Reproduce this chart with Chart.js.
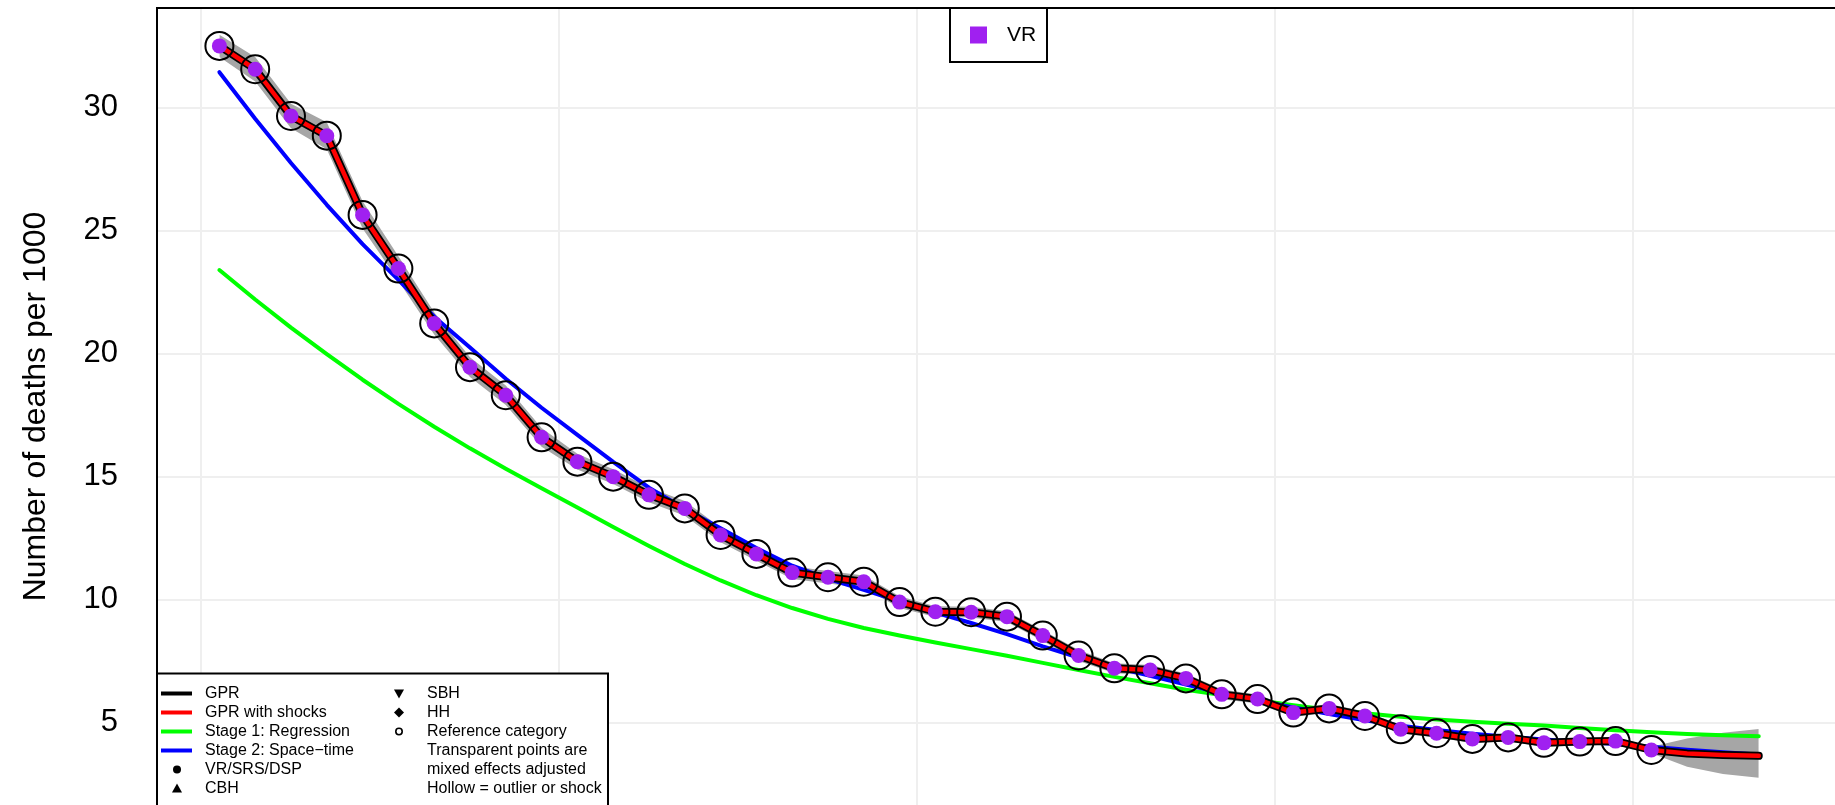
<!DOCTYPE html>
<html>
<head>
<meta charset="utf-8">
<script src="https://cdn.jsdelivr.net/npm/chart.js@4.4.0/dist/chart.umd.min.js"></script>
<style>
html, body { margin: 0; padding: 0; background: #fff; overflow: hidden; }
canvas { display: block; }
</style>
</head>
<body>
<canvas id="deathsChart" width="1835" height="805"></canvas>
<script>
// Mid-year points for the estimate lines
const years = [1970.5, 1971.5, 1972.5, 1973.5, 1974.5, 1975.5, 1976.5, 1977.5, 1978.5, 1979.5,
    1980.5, 1981.5, 1982.5, 1983.5, 1984.5, 1985.5, 1986.5, 1987.5, 1988.5, 1989.5,
    1990.5, 1991.5, 1992.5, 1993.5, 1994.5, 1995.5, 1996.5, 1997.5, 1998.5, 1999.5,
    2000.5, 2001.5, 2002.5, 2003.5, 2004.5, 2005.5, 2006.5, 2007.5, 2008.5, 2009.5,
    2010.5, 2011.5, 2012.5, 2013.5];

// VR data points (1970.5 - 2010.5)
const vrYears = years.slice(0, 41);
const vrDeaths = [32.51, 31.56, 29.66, 28.86, 25.64, 23.46, 21.23, 19.45, 18.31, 16.6,
    15.61, 15.0, 14.26, 13.71, 12.63, 11.86, 11.10, 10.91, 10.73, 9.90,
    9.51, 9.49, 9.31, 8.54, 7.73, 7.21, 7.14, 6.80, 6.15, 5.96,
    5.41, 5.58, 5.27, 4.73, 4.57, 4.34, 4.40, 4.18, 4.23, 4.25, 3.89];

// GPR estimate and its uncertainty band
const gpr = [32.51, 31.56, 29.66, 28.86, 25.64, 23.46, 21.23, 19.45, 18.31, 16.6,
    15.61, 15.0, 14.26, 13.71, 12.63, 11.86, 11.10, 10.91, 10.73, 9.90,
    9.51, 9.49, 9.31, 8.54, 7.73, 7.21, 7.14, 6.80, 6.15, 5.96,
    5.41, 5.58, 5.27, 4.73, 4.57, 4.34, 4.40, 4.18, 4.23, 4.25,
    3.89, 3.75, 3.69, 3.65];
const gprUpper = [32.96, 32.06, 30.16, 29.41, 26.19, 23.96, 21.68, 19.85, 18.71, 16.98,
    15.93, 15.3, 14.56, 14.01, 12.93, 12.14, 11.36, 11.16, 10.98, 10.14,
    9.73, 9.71, 9.53, 8.76, 7.95, 7.41, 7.34, 7.0, 6.35, 6.14,
    5.59, 5.76, 5.45, 4.9, 4.74, 4.51, 4.56, 4.34, 4.39, 4.4,
    4.02, 4.36, 4.59, 4.74];
const gprLower = [32.06, 31.06, 29.16, 28.31, 25.09, 22.96, 20.78, 19.05, 17.91, 16.22,
    15.29, 14.7, 13.96, 13.41, 12.33, 11.58, 10.84, 10.66, 10.48, 9.66,
    9.29, 9.27, 9.09, 8.32, 7.51, 7.01, 6.94, 6.6, 5.95, 5.78,
    5.23, 5.4, 5.09, 4.56, 4.4, 4.17, 4.24, 4.02, 4.07, 4.1,
    3.76, 3.21, 2.91, 2.76];

// Stage 1 (regression) and Stage 2 (space-time)
const stage1 = [23.4, 22.2, 21.06, 19.98, 18.94, 17.96, 17.03, 16.15, 15.32, 14.53,
    13.75, 12.95, 12.18, 11.45, 10.78, 10.18, 9.66, 9.22, 8.85, 8.54,
    8.26, 7.99, 7.72, 7.43, 7.14, 6.86, 6.6, 6.34, 6.12, 5.91,
    5.71, 5.53, 5.38, 5.24, 5.13, 5.04, 4.96, 4.88, 4.78, 4.69,
    4.61, 4.54, 4.49, 4.45];
const stage2 = [31.44, 29.55, 27.75, 26.05, 24.45, 23.0, 21.5, 20.25, 18.98, 17.8,
    16.7, 15.6, 14.55, 13.7, 12.9, 12.1, 11.38, 10.85, 10.4, 9.93,
    9.47, 9.05, 8.6, 8.1, 7.65, 7.25, 6.9, 6.55, 6.2, 5.9,
    5.62, 5.35, 5.1, 4.88, 4.7, 4.55, 4.43, 4.32, 4.22, 4.13,
    4.02, 3.9, 3.8, 3.71];

// Axis ticks
const yTickValues = [5, 10, 15, 20, 25, 30];
const xGridYears = [1970, 1980, 1990, 2000, 2010];

const FONT = "'Liberation Sans', Arial, Helvetica, sans-serif";

function toPoints(xs, ys) {
    return ys.map((v, i) => ({ x: xs[i], y: v }));
}

function lineSet(label, values, color, width, order) {
    return {
        label: label,
        data: toPoints(years, values),
        borderColor: color,
        borderWidth: width,
        pointRadius: 0,
        fill: false,
        tension: 0,
        borderCapStyle: 'round',
        borderJoinStyle: 'round',
        order: order
    };
}

// no extra padding from the axes, the plot runs off the page bottom and right
function noPadding(scale) {
    scale.paddingTop = 0;
    scale.paddingBottom = 0;
    scale.paddingLeft = 0;
    scale.paddingRight = 0;
}

// Frame top edge and the two legends, drawn on top of the plot
const legendPlugin = {
    id: 'plotLegends',
    afterDraw(chart) {
        const ctx = chart.ctx;
        const area = chart.chartArea;
        ctx.save();

        // top border
        ctx.strokeStyle = '#000';
        ctx.lineWidth = 2;
        ctx.beginPath();
        ctx.moveTo(area.left - 1, area.top);
        ctx.lineTo(area.right, area.top);
        ctx.stroke();

        // VR legend (top centre)
        ctx.fillStyle = '#fff';
        ctx.fillRect(950, area.top, 97, 54);
        ctx.lineWidth = 2;
        ctx.strokeRect(950, area.top, 97, 54);
        ctx.fillStyle = '#A020F0';
        ctx.fillRect(970, 26.5, 17, 17);
        ctx.fillStyle = '#000';
        ctx.font = '21px ' + FONT;
        ctx.textBaseline = 'middle';
        ctx.textAlign = 'left';
        ctx.fillText('VR', 1007, 35.5);

        // Method legend (bottom left)
        const boxLeft = area.left, boxTop = 673.5, boxRight = 608;
        ctx.fillStyle = '#fff';
        ctx.fillRect(boxLeft, boxTop, boxRight - boxLeft, 160);
        ctx.strokeStyle = '#000';
        ctx.lineWidth = 2;
        ctx.strokeRect(boxLeft, boxTop, boxRight - boxLeft, 160);

        const rowY = i => 693.5 + i * 19;
        const leftItems = ['GPR', 'GPR with shocks', 'Stage 1: Regression', 'Stage 2: Space\u2212time', 'VR/SRS/DSP', 'CBH'];
        const lineColors = ['#000000', '#FF0000', '#00FF00', '#0000FF'];
        const rightItems = ['SBH', 'HH', 'Reference category', 'Transparent points are', 'mixed effects adjusted', 'Hollow = outlier or shock'];

        ctx.lineCap = 'butt';
        lineColors.forEach((c, i) => {
            ctx.strokeStyle = c;
            ctx.lineWidth = 4;
            ctx.beginPath();
            ctx.moveTo(161, rowY(i));
            ctx.lineTo(192, rowY(i));
            ctx.stroke();
        });
        ctx.fillStyle = '#000';
        // filled dot
        ctx.beginPath();
        ctx.arc(177, rowY(4), 4, 0, Math.PI * 2);
        ctx.fill();
        // triangle
        ctx.beginPath();
        ctx.moveTo(177, rowY(5) - 5);
        ctx.lineTo(172, rowY(5) + 4);
        ctx.lineTo(182, rowY(5) + 4);
        ctx.closePath();
        ctx.fill();
        // down triangle
        ctx.beginPath();
        ctx.moveTo(399, rowY(0) + 5);
        ctx.lineTo(394, rowY(0) - 4);
        ctx.lineTo(404, rowY(0) - 4);
        ctx.closePath();
        ctx.fill();
        // diamond
        ctx.beginPath();
        ctx.moveTo(399, rowY(1) - 5);
        ctx.lineTo(404, rowY(1));
        ctx.lineTo(399, rowY(1) + 5);
        ctx.lineTo(394, rowY(1));
        ctx.closePath();
        ctx.fill();
        // hollow circle
        ctx.strokeStyle = '#000';
        ctx.lineWidth = 1.6;
        ctx.beginPath();
        ctx.arc(399, rowY(2), 3.2, 0, Math.PI * 2);
        ctx.stroke();

        ctx.font = '16px ' + FONT;
        ctx.textBaseline = 'middle';
        leftItems.forEach((t, i) => ctx.fillText(t, 205, rowY(i)));
        rightItems.forEach((t, i) => ctx.fillText(t, 427, rowY(i)));

        ctx.restore();
    }
};

const ctx = document.getElementById('deathsChart').getContext('2d');
const deathsChart = new Chart(ctx, {
    type: 'line',
    data: {
        datasets: [
            {
                label: 'GPR upper',
                data: toPoints(years, gprUpper),
                borderWidth: 0,
                pointRadius: 0,
                backgroundColor: '#A6A6A6',
                fill: '+1',
                order: 11
            },
            {
                label: 'GPR lower',
                data: toPoints(years, gprLower),
                borderWidth: 0,
                pointRadius: 0,
                fill: false,
                order: 10
            },
            lineSet('Stage 1: Regression', stage1, '#00FF00', 4, 9),
            lineSet('Stage 2: Space-time', stage2, '#0000FF', 4, 8),
            lineSet('GPR', gpr, '#000000', 8, 7),
            lineSet('GPR with shocks', gpr, '#FF0000', 4.5, 6),
            {
                label: 'VR',
                data: toPoints(vrYears, vrDeaths),
                showLine: false,
                pointRadius: 7.5,
                pointBackgroundColor: '#A020F0',
                pointBorderWidth: 0,
                order: 5
            },
            {
                label: 'Outlier or shock',
                data: toPoints(vrYears, vrDeaths),
                showLine: false,
                pointRadius: 14,
                pointBackgroundColor: 'rgba(0,0,0,0)',
                pointBorderColor: '#000000',
                pointBorderWidth: 2,
                order: 4
            }
        ]
    },
    options: {
        responsive: false,
        animation: false,
        devicePixelRatio: 1,
        events: [],
        layout: { autoPadding: false, padding: { top: 8, left: 0, right: 0, bottom: 0 } },
        scales: {
            x: {
                type: 'linear',
                min: 1968.757,
                max: 2015.63,
                afterBuildTicks: function(scale) {
                    scale.ticks = xGridYears.map(v => ({ value: v }));
                },
                afterFit: function(scale) {
                    scale.height = 0;
                    noPadding(scale);
                },
                ticks: { display: false },
                grid: { color: '#EFEFEF', lineWidth: 2, drawTicks: false },
                border: { display: false }
            },
            y: {
                type: 'linear',
                min: 1.653,
                max: 34.05,
                afterBuildTicks: function(scale) {
                    scale.ticks = yTickValues.map(v => ({ value: v }));
                },
                afterFit: function(scale) {
                    scale.width = 157;
                    noPadding(scale);
                },
                ticks: {
                    color: '#000',
                    padding: 39,
                    font: { size: 31, family: FONT }
                },
                grid: { color: '#EFEFEF', lineWidth: 2, drawTicks: false },
                border: { display: true, color: '#000', width: 2 },
                title: {
                    display: true,
                    text: 'Number of deaths per 1000',
                    color: '#000',
                    font: { size: 32, family: FONT },
                    padding: { top: 17, bottom: 0 }
                }
            }
        },
        plugins: {
            legend: { display: false },
            tooltip: { enabled: false }
        }
    },
    plugins: [legendPlugin]
});
</script>
</body>
</html>
